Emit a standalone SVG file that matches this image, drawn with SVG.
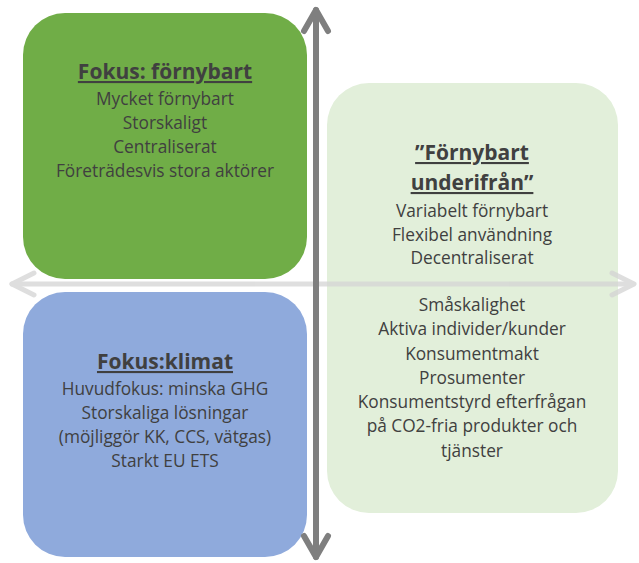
<svg xmlns="http://www.w3.org/2000/svg" width="639" height="563" viewBox="0 0 639 563">
<style>
.t{font-family:"Open Sans","Liberation Sans",Arial,sans-serif;font-size:17.3px;fill:#404040;text-anchor:middle}
.h{font-family:"Open Sans","Liberation Sans",Arial,sans-serif;font-size:21px;font-weight:bold;fill:#404040;text-anchor:middle;text-decoration:underline}
.ax{fill:none;stroke-linecap:round;stroke-linejoin:round}
</style>
<rect width="639" height="563" fill="#ffffff"/>
<g id="node-fornybart">
<rect x="23" y="13" width="284" height="266" rx="42" fill="#70ad47"/>
<text class="h" x="165" y="79">Fokus: förnybart</text>
<text class="t" x="165" y="105">Mycket förnybart</text>
<text class="t" x="165" y="129">Storskaligt</text>
<text class="t" x="165" y="153">Centraliserat</text>
<text class="t" x="165" y="177">Företrädesvis stora aktörer</text>
</g>
<g id="node-klimat">
<rect x="23" y="292" width="284" height="265" rx="42" fill="#8faadc"/>
<text class="h" x="165" y="369">Fokus:klimat</text>
<text class="t" x="165" y="395">Huvudfokus: minska GHG</text>
<text class="t" x="165" y="419">Storskaliga lösningar</text>
<text class="t" x="165" y="443">(möjliggör KK, CCS, vätgas)</text>
<text class="t" x="165" y="467">Starkt EU ETS</text>
</g>
<g id="node-underifran">
<rect x="327" y="83" width="291" height="430" rx="42" fill="#e2efda"/>
<text class="h" x="472" y="160">”Förnybart</text>
<text class="h" x="472" y="190">underifrån”</text>
<text class="t" x="472" y="217">Variabelt förnybart</text>
<text class="t" x="472" y="241">Flexibel användning</text>
<text class="t" x="472" y="264">Decentraliserat</text>
<text class="t" x="472" y="311">Småskalighet</text>
<text class="t" x="472" y="335">Aktiva individer/kunder</text>
<text class="t" x="472" y="360">Konsumentmakt</text>
<text class="t" x="472" y="384">Prosumenter</text>
<text class="t" x="472" y="408">Konsumentstyrd efterfrågan</text>
<text class="t" x="472" y="432">på CO2-fria produkter och</text>
<text class="t" x="472" y="457">tjänster</text>
</g>
<g id="connectors">
<g stroke="#d4d4d4" stroke-width="5" opacity="0.75" class="ax">
<line x1="12" y1="284" x2="633" y2="284"/>
<polyline points="34,273 12,284 34,295"/>
<polyline points="612,273 634,284 612,295"/>
</g>
<g stroke="#7f7f7f" stroke-width="6" class="ax">
<line x1="316" y1="10" x2="316" y2="557"/>
<polyline points="304,31 316,10 328,31"/>
<polyline points="304,536 316,557 328,536"/>
</g>
</g>
</svg>
